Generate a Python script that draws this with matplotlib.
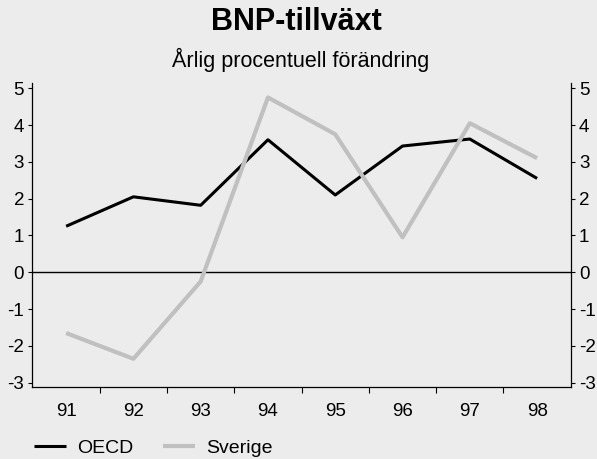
import matplotlib
matplotlib.use("Agg")
import matplotlib.pyplot as plt
import numpy as np

plt.rcParams['font.family'] = ['Liberation Sans', 'DejaVu Sans']

years = ['91', '92', '93', '94', '95', '96', '97', '98']
oecd = [1.25, 2.05, 1.82, 3.6, 2.1, 3.43, 3.62, 2.55]
sverige = [-1.65, -2.35, -0.25, 4.75, 3.75, 0.95, 4.05, 3.1]
yticks = [-3, -2, -1, 0, 1, 2, 3, 4, 5]

bg = '#ececec'
fig = plt.figure(figsize=(5.97, 4.59), dpi=100, facecolor=bg)
ax = fig.add_axes([0.0544, 0.1562, 0.9016, 0.6636], facecolor=bg)

x = np.arange(len(years))
ax.plot(x, oecd, color='black', lw=2.2, label='OECD', solid_capstyle='butt')
ax.plot(x, sverige, color='#c0c0c0', lw=3.0, label='Sverige', solid_capstyle='butt')
ax.axhline(0, color='black', lw=1.0, zorder=1)

ax.set_xlim(-0.5, len(years) - 0.5)
ax.set_ylim(-3.125, 5.15)

# category labels in the middle, tick marks on the boundaries
ax.set_xticks(x[:-1] + 0.5)
ax.set_xticklabels([])
ax.set_xticks(x, minor=True)
ax.set_xticklabels(years, minor=True, fontsize=13.5)
ax.tick_params(axis='x', which='minor', length=0, pad=11)
ax.tick_params(axis='x', which='major', length=4, width=0.8, direction='out')

ax.set_yticks(yticks)
ax.set_yticklabels([str(t) for t in yticks], fontsize=13.5)
ax.tick_params(axis='y', length=3, width=0.8, direction='out', pad=3,
               left=True, right=True, labelleft=True, labelright=True)

ax.spines['top'].set_visible(False)
for s in ['left', 'right', 'bottom']:
    ax.spines[s].set_linewidth(0.9)

fig.text(0.497, 0.952, 'BNP-tillväxt', ha='center', va='center',
         fontsize=22, fontweight='bold')
fig.text(0.504, 0.869, 'Årlig procentuell förändring', ha='center',
         va='center', fontsize=15.5)

fig.legend(loc='lower left', bbox_to_anchor=(0.028, -0.034), ncol=2,
           frameon=False, fontsize=14, handlelength=1.65, columnspacing=1.55,
           handletextpad=0.55)

fig.savefig('out.png', dpi=100, facecolor=bg)
